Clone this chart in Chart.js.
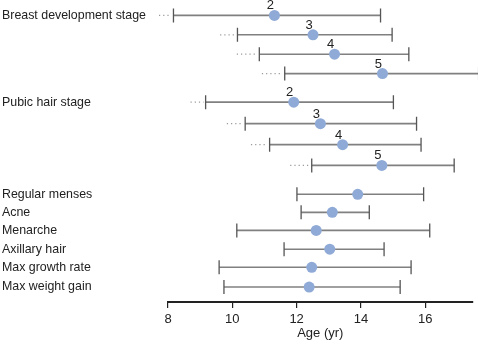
<!DOCTYPE html>
<html>
<head>
<meta charset="utf-8">
<script src="https://cdn.jsdelivr.net/npm/chart.js@4/dist/chart.umd.min.js"></script>
<style>
  body { margin: 0; background: #fff; }
</style>
</head>
<body>
<canvas id="ageChart" width="478" height="346"></canvas>
<script>
// one entry per row, top to bottom
var rowNames = ['Breast development stage', '', '', '', 'Pubic hair stage', '', '', '',
    'Regular menses', 'Acne', 'Menarche', 'Axillary hair', 'Max growth rate', 'Max weight gain'];
var stageNames = ['2', '3', '4', '5', '2', '3', '4', '5', '', '', '', '', '', ''];
var meanAge = [11.31, 12.51, 13.18, 14.67, 11.91, 12.74, 13.43, 14.65, 13.90, 13.11, 12.61, 13.03, 12.47, 12.39];
var lowAge = [8.17, 10.16, 10.84, 11.63, 9.17, 10.40, 11.16, 12.47, 12.01, 12.14, 10.14, 11.61, 9.59, 9.74];
var highAge = [14.61, 14.97, 15.49, 17.66, 15.01, 15.73, 15.87, 16.90, 15.95, 14.26, 16.14, 14.72, 15.56, 15.22];
// dotted lead-in before the lower bound (stages only)
var leadFrom = [7.72, 9.62, 10.14, 10.92, 8.70, 9.83, 10.58, 11.80, null, null, null, null, null, null];
var xTicks = [8, 10, 12, 14, 16];

// vertical slot of each row (groups get extra space between them)
var rowSlot = [0, 1, 2, 3, 4.47, 5.58, 6.66, 7.73, 9.22, 10.15, 11.08, 12.05, 12.98, 14];

var points = meanAge.map((v, i) => ({ x: v, y: rowSlot[i] }));

var FONT = '"Liberation Sans", Arial, sans-serif';

var errorBars = {
    id: 'errorBars',
    beforeDatasetsDraw(chart) {
        const ctx = chart.ctx;
        const xs = chart.scales.x, ys = chart.scales.y;
        ctx.save();
        for (let i = 0; i < meanAge.length; i++) {
            const y = ys.getPixelForValue(rowSlot[i]);
            const x1 = xs.getPixelForValue(lowAge[i]);
            const x2 = xs.getPixelForValue(highAge[i]);

            if (leadFrom[i] != null) {
                ctx.strokeStyle = '#9a9a9a';
                ctx.lineWidth = 1.2;
                ctx.setLineDash([1.2, 3]);
                ctx.beginPath();
                ctx.moveTo(xs.getPixelForValue(leadFrom[i]), y);
                ctx.lineTo(x1 - 2, y);
                ctx.stroke();
                ctx.setLineDash([]);
            }

            ctx.strokeStyle = '#808080';
            ctx.lineWidth = 1.6;
            ctx.beginPath();
            ctx.moveTo(x1, y);
            ctx.lineTo(x2, y);
            ctx.stroke();

            ctx.strokeStyle = '#555';
            ctx.lineWidth = 1.3;
            ctx.beginPath();
            ctx.moveTo(x1, y - 7);
            ctx.lineTo(x1, y + 7);
            ctx.moveTo(x2, y - 7);
            ctx.lineTo(x2, y + 7);
            ctx.stroke();
        }
        ctx.restore();
    },
    afterDatasetsDraw(chart) {
        const ctx = chart.ctx;
        const meta = chart.getDatasetMeta(0);
        ctx.save();
        ctx.fillStyle = '#222';
        ctx.font = '13px ' + FONT;
        ctx.textAlign = 'center';
        ctx.textBaseline = 'bottom';
        meta.data.forEach((pt, i) => {
            if (stageNames[i]) ctx.fillText(stageNames[i], pt.x - 4, pt.y - 3);
        });
        ctx.restore();
    }
};

var chart = new Chart(document.getElementById('ageChart').getContext('2d'), {
    type: 'scatter',
    data: {
        datasets: [{
            data: points,
            backgroundColor: 'rgb(143, 170, 214)',
            borderWidth: 0,
            pointRadius: 5.5,
            clip: false
        }]
    },
    options: {
        responsive: false,
        animation: false,
        events: [],
        layout: { padding: { top: 0, right: 5, bottom: 0, left: 2 } },
        plugins: { legend: { display: false }, tooltip: { enabled: false } },
        scales: {
            x: {
                type: 'linear',
                min: 8,
                max: 17.47,
                afterBuildTicks: scale => { scale.ticks = xTicks.map(v => ({ value: v })); },
                afterFit: scale => { scale.height = 44; },
                grid: { drawOnChartArea: false, drawTicks: true, tickLength: 6, color: '#222', lineWidth: 1.2 },
                border: { display: true, color: '#222', width: 2 },
                ticks: { color: '#222', font: { family: FONT, size: 13 }, padding: 4, maxRotation: 0 },
                title: { display: true, text: 'Age (yr)', color: '#222', font: { family: FONT, size: 13 }, padding: { top: 2, bottom: 5 } }
            },
            y: {
                type: 'linear',
                reverse: true,
                min: -0.41,
                max: 14.77,
                afterBuildTicks: scale => { scale.ticks = rowSlot.map(v => ({ value: v })); },
                afterFit: scale => { scale.width = 166; },
                grid: { display: false },
                border: { display: false },
                ticks: {
                    color: '#222',
                    font: { family: FONT, size: 12.4 },
                    crossAlign: 'far',
                    padding: 0,
                    autoSkip: false,
                    callback: (v, i) => rowNames[i]
                }
            }
        }
    },
    plugins: [errorBars]
});
</script>
</body>
</html>
